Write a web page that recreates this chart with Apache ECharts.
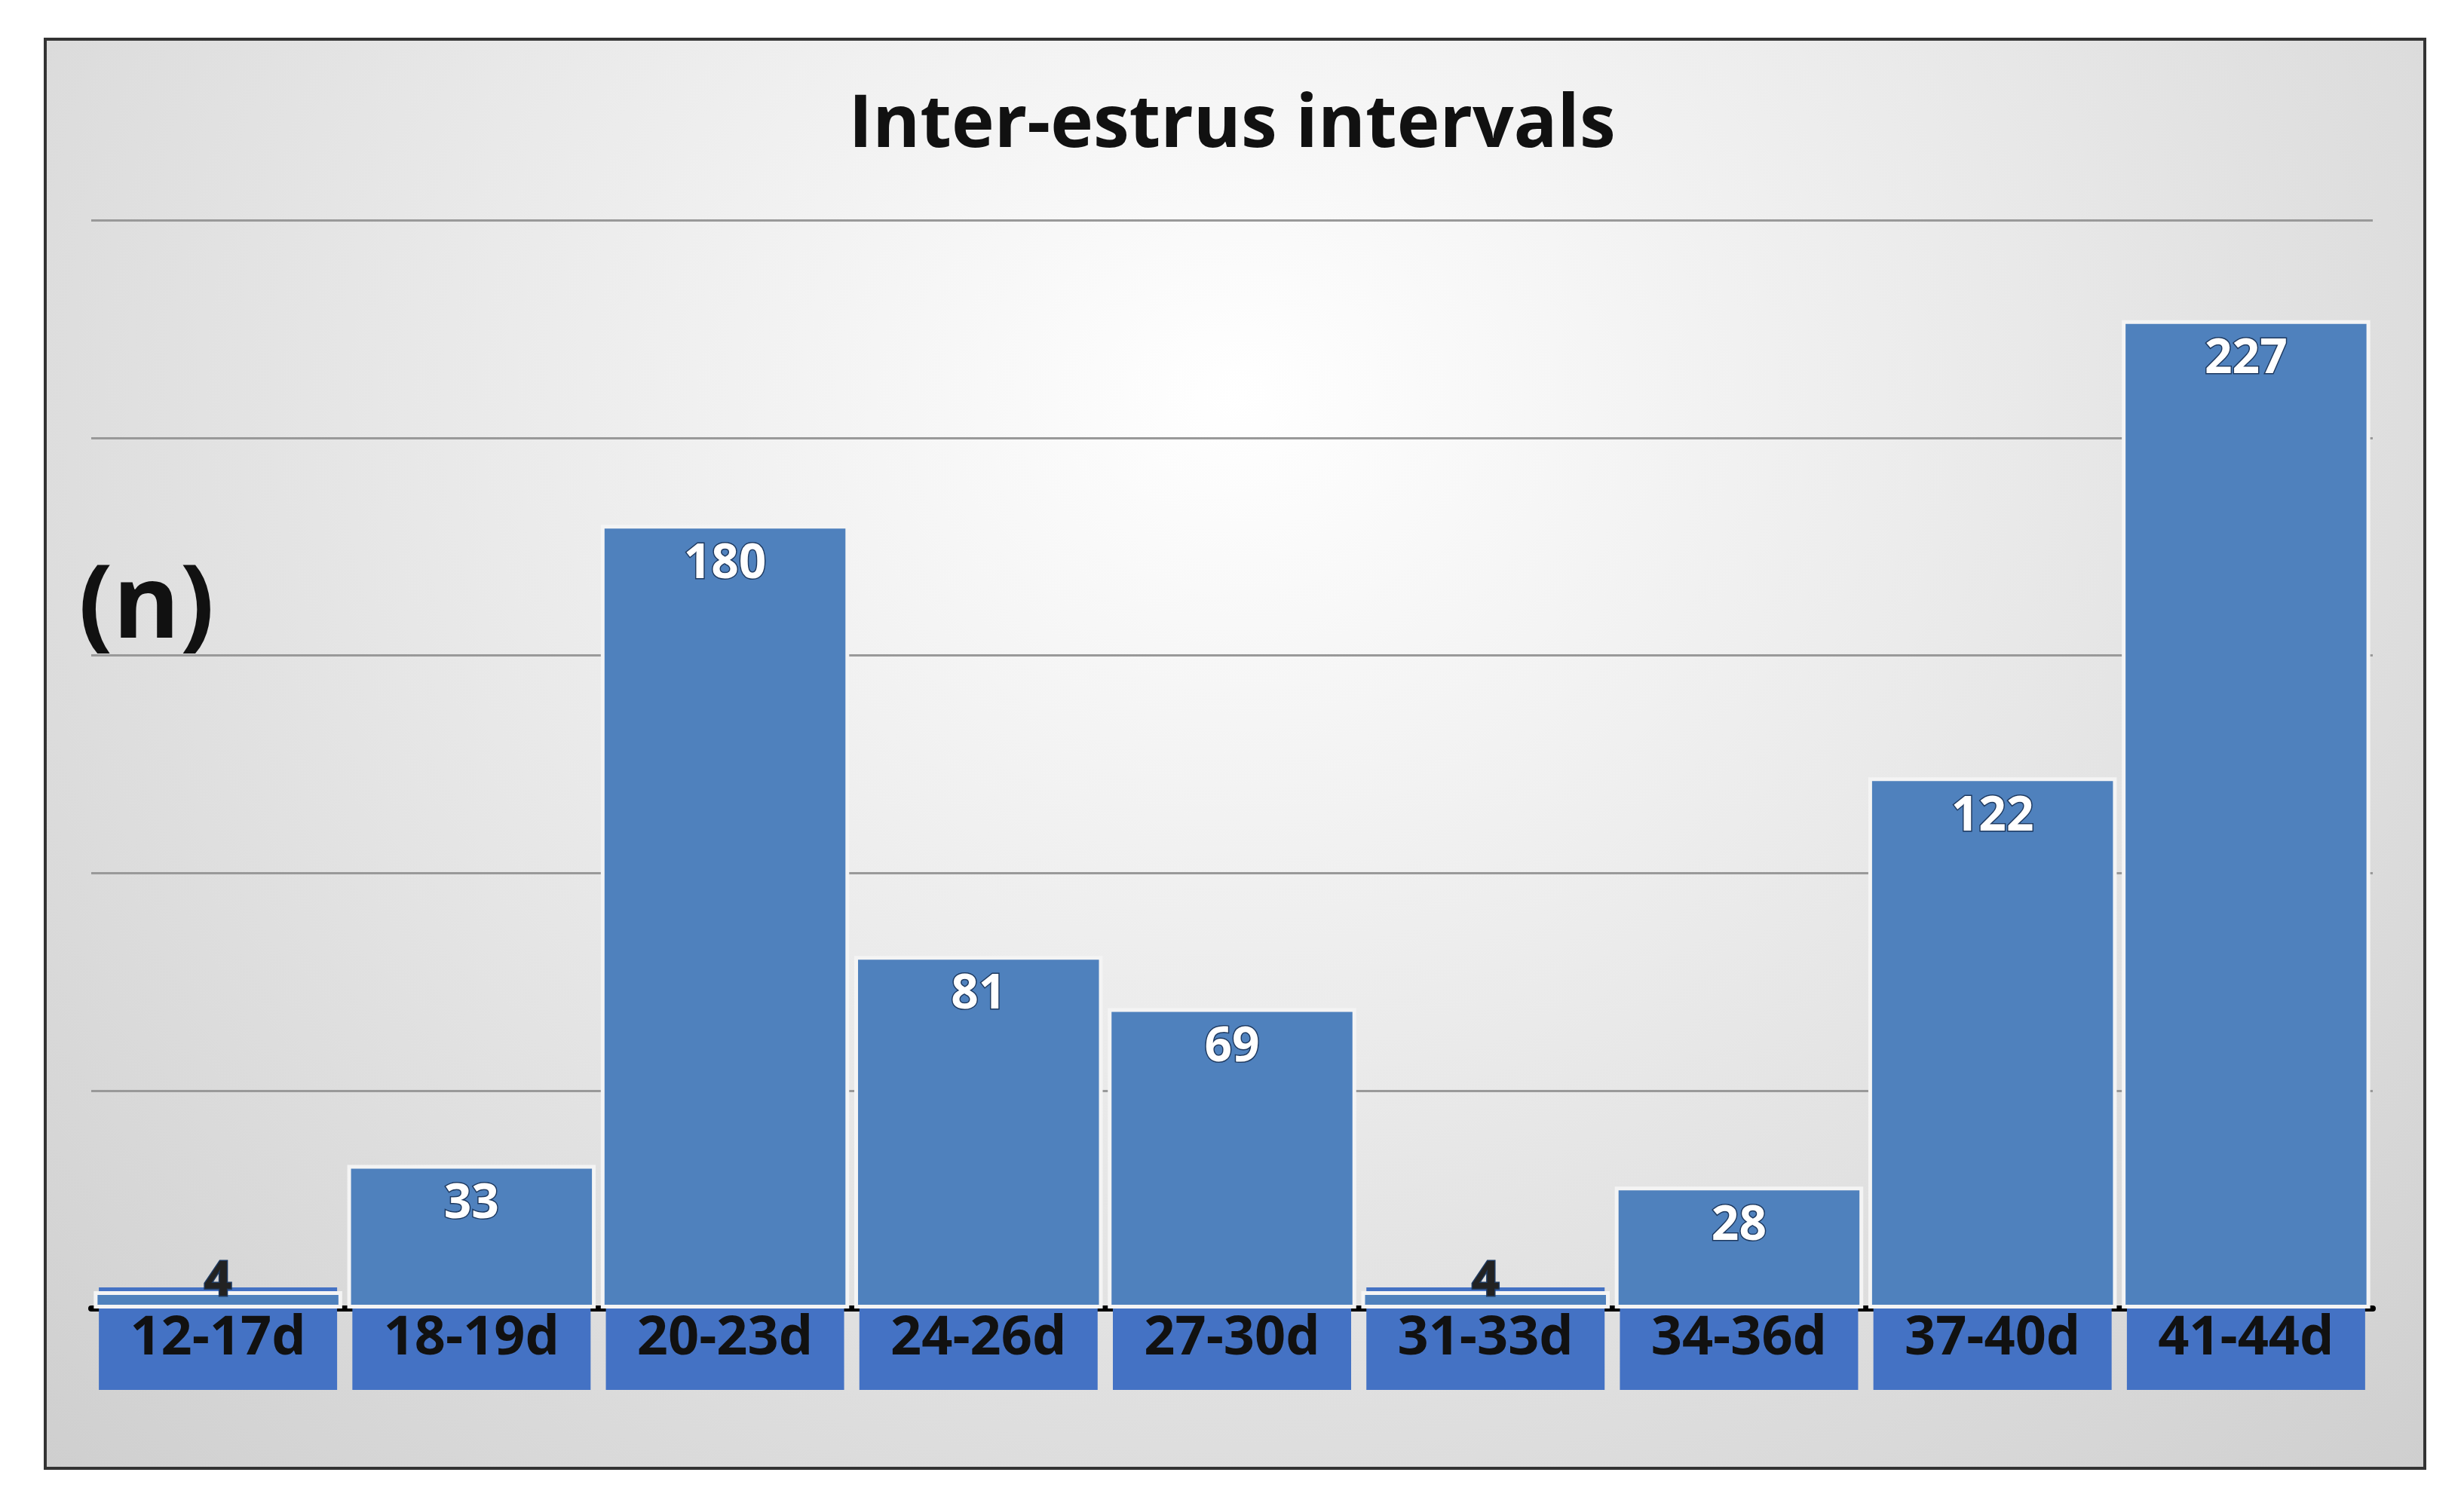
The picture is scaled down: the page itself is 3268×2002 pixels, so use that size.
<!DOCTYPE html>
<html><head><meta charset="utf-8">
<script src="https://cdn.jsdelivr.net/npm/echarts@6/dist/echarts.min.js"></script>
<style>
html,body{margin:0;padding:0;background:#fff;}
#frame{position:absolute;left:58px;top:50px;width:3152px;height:1892px;border:4px solid #333;
background:radial-gradient(ellipse at 50% 25%, #ffffff 0%, #eaeaea 45%, #cfcfcf 100%);}
#c{position:absolute;left:0;top:0;width:3268px;height:2002px;}
</style></head><body>
<div id="frame"></div>
<div id="c"></div>
<script>
const categories=['12-17d','18-19d','20-23d','24-26d','27-30d','31-33d','34-36d','37-40d','41-44d'];
const counts=[4,33,180,81,69,4,28,122,227];
const chart=echarts.init(document.getElementById('c'),null,{renderer:'canvas'});
chart.setOption({
  backgroundColor:'transparent',
  title:{text:'Inter-estrus intervals',left:'center',top:115,textStyle:{fontFamily:'Open Sans',fontWeight:'bold',fontSize:96,color:'#111'}},
  graphic:[{type:'text',left:104,top:740,style:{text:'(n)',font:'bold 135px "Open Sans"',fill:'#111'}}],
  grid:{left:121,right:121,top:292,bottom:266},
  xAxis:{type:'category',data:categories,
    axisLine:{lineStyle:{color:'#000',width:8}},axisTick:{show:false},
    axisLabel:{interval:0,margin:40,fontFamily:'Open Sans',fontWeight:'bold',fontSize:72,color:'#111',
      backgroundColor:'#4472c4',width:316,height:136,lineHeight:136,align:'center',verticalAlign:'middle'}},
  yAxis:{type:'value',min:0,max:250,interval:50,axisLabel:{show:false},axisLine:{show:false},axisTick:{show:false},
    splitLine:{lineStyle:{color:'#999',width:3}}},
  series:[{type:'bar',data:counts.map(v=>({value:v,label:v<10?{position:'top',distance:-20,color:'#222'}:{}})),
    barCategoryGap:'2%',
    itemStyle:{color:'#4f81bd',borderColor:'#f4f4f4',borderWidth:5},
    label:{show:true,position:'insideTop',distance:20,fontFamily:'Open Sans',fontWeight:'bold',fontSize:64,color:'#fff',
      textBorderColor:'#1f3a60',textBorderWidth:3}}]
});
</script></body></html>
